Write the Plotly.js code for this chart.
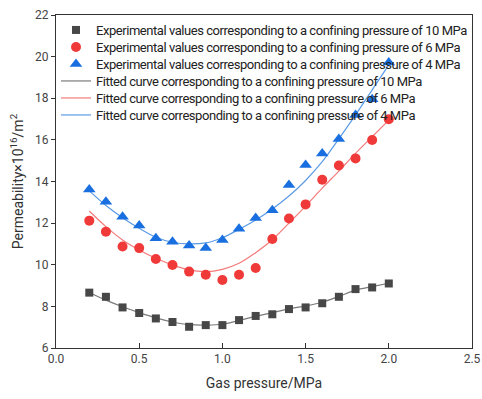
<!DOCTYPE html>
<html>
<head>
<meta charset="utf-8">
<script src="https://cdn.plot.ly/plotly-3.0.1.min.js"></script>
<style>
html,body{margin:0;padding:0;background:#fff;}
.legendtext{letter-spacing:-0.45px;}
</style>
</head>
<body>
<div id="chart" style="width:482px;height:399px;"></div>
<script>
// Gas pressure (MPa)
const gasPressure = [0.2,0.3,0.4,0.5,0.6,0.7,0.8,0.9,1.0,1.1,1.2,1.3,1.4,1.5,1.6,1.7,1.8,1.9,2.0];

// Experimental permeability (x10^-16 m^2)
const exp10MPa = [8.66,8.46,7.95,7.68,7.42,7.25,7.02,7.10,7.10,7.34,7.54,7.62,7.87,7.95,8.15,8.46,8.83,8.91,9.10];
const exp6MPa  = [12.12,11.59,10.88,10.80,10.28,9.99,9.67,9.52,9.27,9.52,9.84,11.24,12.22,12.90,14.08,14.77,15.11,15.99,16.99];
const exp4MPa  = [13.62,13.03,12.31,11.89,11.27,11.11,10.92,10.80,11.19,11.73,12.25,12.62,13.83,14.79,15.34,16.04,17.20,17.95,19.72];

// Fitted curves
const fit10MPa = [8.67,8.30,7.98,7.70,7.45,7.25,7.12,7.10,7.14,7.32,7.52,7.70,7.88,8.02,8.20,8.48,8.78,8.95,9.11];
const fit6MPa  = [12.58,11.83,11.19,10.71,10.31,9.99,9.75,9.67,9.78,10.07,10.58,11.20,12.00,12.82,13.68,14.50,15.35,16.15,16.95];
const fit4MPa  = [13.55,12.85,12.26,11.75,11.32,11.08,11.00,11.05,11.30,11.70,12.15,12.68,13.30,14.05,14.95,16.05,17.20,18.40,19.60];

const legendNames = [
  'Experimental values corresponding to a confining pressure of 10 MPa',
  'Experimental values corresponding to a confining pressure of 6 MPa',
  'Experimental values corresponding to a confining pressure of 4 MPa',
  'Fitted curve corresponding to a confining pressure of 10 MPa',
  'Fitted curve corresponding to a confining pressure of 6 MPa',
  'Fitted curve corresponding to a confining pressure of 4 MPa'
];

const traces = [
  {x: gasPressure, y: fit10MPa, mode:'lines', name: legendNames[3], legendrank: 4,
   line:{color:'#7a7a7a', width:1.2, shape:'spline', smoothing:1}},
  {x: gasPressure, y: fit6MPa, mode:'lines', name: legendNames[4], legendrank: 5,
   line:{color:'#f47b7b', width:1.2, shape:'spline', smoothing:1}},
  {x: gasPressure, y: fit4MPa, mode:'lines', name: legendNames[5], legendrank: 6,
   line:{color:'#5b9be6', width:1.2, shape:'spline', smoothing:1}},
  {x: gasPressure, y: exp10MPa, mode:'markers', name: legendNames[0], legendrank: 1,
   marker:{symbol:'square', size:8, color:'#474747'}},
  {x: gasPressure, y: exp6MPa, mode:'markers', name: legendNames[1], legendrank: 2,
   marker:{symbol:'circle', size:10, color:'#f03a3a'}},
  {x: gasPressure, y: exp4MPa, mode:'markers', name: legendNames[2], legendrank: 3,
   marker:{symbol:'triangle-up', size:11, color:'#1a6fe0'}}
];

const axisCommon = {
  showgrid:false, zeroline:false, showline:true, linecolor:'#333', linewidth:1,
  mirror:true, tickcolor:'#333', tickwidth:1,
  tickfont:{family:'Roboto, sans-serif', size:12, color:'#444'}
};

const layout = {
  width:482, height:399,
  margin:{l:56, r:10, t:15, b:51},
  paper_bgcolor:'#fff', plot_bgcolor:'#fff',
  font:{family:'Roboto, sans-serif', color:'#333'},
  showlegend:true,
  legend:{x:0.0, y:1.0, xanchor:'left', yanchor:'top', bgcolor:'rgba(0,0,0,0)',
          borderwidth:0, font:{family:'Roboto, sans-serif', size:13, color:'#222'}},
  xaxis: Object.assign({}, axisCommon, {
    range:[0,2.5], tickvals:[0,0.5,1,1.5,2,2.5], ticktext:['0.0','0.5','1.0','1.5','2.0','2.5'],
    ticks:'inside', ticklen:5,
    title:{text:'Gas pressure/MPa', font:{family:'Roboto, sans-serif', size:14, color:'#333'}, standoff:12}
  }),
  yaxis: Object.assign({}, axisCommon, {
    range:[6,22], dtick:2, ticks:'outside', ticklen:4,
    title:{text:'Permeability×10<sup>16</sup>/m<sup>2</sup>', font:{family:'Roboto, sans-serif', size:14, color:'#333'}, standoff:8}
  })
};

Plotly.newPlot('chart', traces, layout, {displayModeBar:false, staticPlot:true}).then(function(){
  // tighten legend row spacing to match the reference (about 17 px per row)
  const items = document.querySelectorAll('.legend .traces');
  let y0 = null, x0 = 0;
  items.forEach(function(g, i){
    const m = /translate\(\s*([-\d.]+)[ ,]+([-\d.]+)\s*\)/.exec(g.getAttribute('transform') || '');
    if(!m) return;
    if(y0 === null){ x0 = parseFloat(m[1]); y0 = parseFloat(m[2]); }
    g.setAttribute('transform', 'translate(' + x0 + ',' + (y0 + i*17) + ')');
  });
});
</script>
</body>
</html>
